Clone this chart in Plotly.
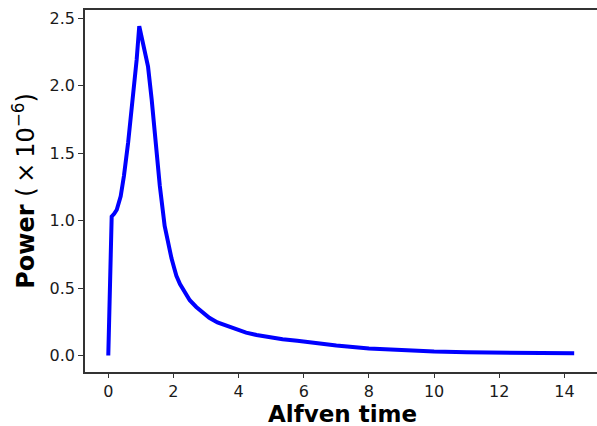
import plotly.graph_objects as go

time = [0.0, 0.104, 0.18, 0.26, 0.38, 0.48, 0.61, 0.76, 0.87, 0.95, 1.07, 1.22, 1.33, 1.43, 1.58, 1.73, 1.85,
        1.94, 2.02, 2.09, 2.2, 2.34, 2.5, 2.7, 2.9, 3.1, 3.35, 3.62, 3.9, 4.23, 4.55, 4.94, 5.35, 5.8, 6.5, 7.0,
        8.0, 9.0, 10.0, 11.0, 12.0, 13.0, 14.3]
power = [0.0, 1.03, 1.05, 1.08, 1.18, 1.33, 1.58, 1.92, 2.19, 2.44, 2.32, 2.14, 1.90, 1.63, 1.26, 0.96, 0.80,
         0.72, 0.65, 0.59, 0.53, 0.47, 0.41, 0.36, 0.315, 0.28, 0.245, 0.22, 0.193, 0.17, 0.152, 0.135, 0.121, 0.11, 0.088, 0.075,
         0.052, 0.038, 0.029, 0.024, 0.021, 0.018, 0.016]

xticks = [0, 2, 4, 6, 8, 10, 12, 14]
yticks = [0.0, 0.5, 1.0, 1.5, 2.0, 2.5]

fig = go.Figure()
fig.add_trace(go.Scatter(x=time, y=power, mode="lines",
                         line=dict(color="#0000ff", width=4),
                         showlegend=False))

font = "DejaVu Sans"
fig.update_layout(
    width=597, height=426,
    margin=dict(l=85, r=0, t=10, b=54),
    plot_bgcolor="white", paper_bgcolor="white",
    font=dict(family=font, color="#1a1a1a", size=16),
    xaxis=dict(range=[-0.715, 15.0], tickvals=xticks, ticktext=[str(v) for v in xticks],
               showgrid=False, zeroline=False, showline=True, linecolor="#333333", linewidth=1.5,
               mirror=True, ticks="outside", ticklen=4, tickcolor="#333333",
               tickfont=dict(size=16)),
    yaxis=dict(range=[-0.122, 2.56], tickvals=yticks, ticktext=[f"{v:.1f}" for v in yticks],
               showgrid=False, zeroline=False, showline=True, linecolor="#333333", linewidth=1.5,
               ticks="outside", ticklen=5, tickcolor="#333333",
               tickfont=dict(size=16),
               title=dict(text="<b>Power</b> (\u2009×\u200910<sup>−6</sup>)", font=dict(size=24, color="black"), standoff=8)),
    annotations=[dict(text="<b>Alfven time</b>", xref="paper", yref="paper", x=0.502, y=-0.115,
                      xanchor="center", yanchor="middle", showarrow=False,
                      font=dict(size=23, color="black", family=font))],
)
fig.write_html("out.html")
